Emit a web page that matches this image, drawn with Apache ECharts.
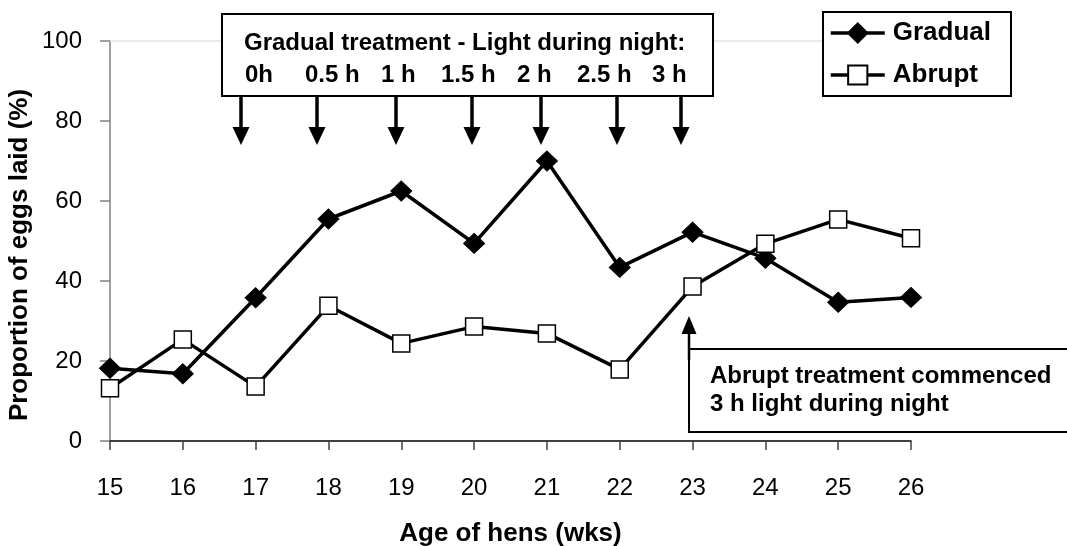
<!DOCTYPE html>
<html>
<head>
<meta charset="utf-8">
<script src="https://cdn.jsdelivr.net/npm/echarts@6/dist/echarts.min.js"></script>
<style>html,body{margin:0;padding:0;background:#fff}#c{width:1067px;height:546px}</style>
</head>
<body>
<div id="c"></div>
<script>
// ---- data ----
var weeks = ['15','16','17','18','19','20','21','22','23','24','25','26'];
var gradual = [18.2, 16.8, 35.8, 55.5, 62.5, 49.4, 70.0, 43.4, 52.2, 45.7, 34.7, 35.9];
var abrupt  = [13.2, 25.4, 13.6, 33.8, 24.4, 28.6, 26.9, 17.9, 38.6, 49.3, 55.4, 50.7];
var yTicks = [0, 20, 40, 60, 80, 100];
var lightLabels = ['0h', '0.5 h', '1 h', '1.5 h', '2 h', '2.5 h', '3 h'];
var boxTitle = 'Gradual treatment - Light during night:';
var noteLines = ['Abrupt treatment commenced', '3 h light during night'];

// ---- layout (pixels) ----
var FONT = '"Liberation Sans", Arial, sans-serif';
var lightLabelX = [245, 305, 381, 441, 517, 577, 652];
var arrowX = [241, 317, 396, 472, 541, 617, 681];

var chart = echarts.init(document.getElementById('c'), null, {renderer: 'canvas'});

var graphics = [];
// top box
graphics.push({type: 'rect', shape: {x: 222, y: 14, width: 491, height: 82},
  style: {fill: '#fff', stroke: '#000', lineWidth: 2}, z: 100});
graphics.push({type: 'text', x: 244, y: 43, z: 101,
  style: {text: boxTitle, font: 'bold 24px ' + FONT, fill: '#000', verticalAlign: 'middle'}});
lightLabels.forEach(function (t, i) {
  graphics.push({type: 'text', x: lightLabelX[i], y: 75, z: 101,
    style: {text: t, font: 'bold 24px ' + FONT, fill: '#000', verticalAlign: 'middle'}});
});
arrowX.forEach(function (x) {
  graphics.push({type: 'line', shape: {x1: x, y1: 96, x2: x, y2: 130}, z: 100,
    style: {stroke: '#000', lineWidth: 3.5}});
  graphics.push({type: 'polygon', shape: {points: [[x - 8.5, 127], [x + 8.5, 127], [x, 145]]}, z: 100,
    style: {fill: '#000'}});
});
// bottom note box
graphics.push({type: 'rect', shape: {x: 689, y: 349, width: 390, height: 83},
  style: {fill: '#fff', stroke: '#000', lineWidth: 2}, z: 100});
graphics.push({type: 'line', shape: {x1: 689, y1: 360, x2: 689, y2: 330}, z: 100,
  style: {stroke: '#000', lineWidth: 2.5}});
graphics.push({type: 'polygon', shape: {points: [[681.5, 334], [696.5, 334], [689, 316]]}, z: 100,
  style: {fill: '#000'}});
graphics.push({type: 'text', x: 710, y: 376, z: 101,
  style: {text: noteLines[0], font: 'bold 24px ' + FONT, fill: '#000', verticalAlign: 'middle'}});
graphics.push({type: 'text', x: 710, y: 404, z: 101,
  style: {text: noteLines[1], font: 'bold 24px ' + FONT, fill: '#000', verticalAlign: 'middle'}});

chart.setOption({
  animation: false,
  backgroundColor: '#fff',
  grid: {left: 110, right: 156, top: 41, bottom: 105, containLabel: false, outerBoundsMode: 'none'},
  legend: {
    orient: 'vertical', left: 823, top: 12,
    width: 191, height: 85,
    padding: [8, 20, 8, 6],
    backgroundColor: '#fff', borderColor: '#000', borderWidth: 2,
    itemWidth: 54, itemHeight: 24, itemGap: 16,
    lineStyle: {width: 3.5, color: '#000'},
    textStyle: {fontFamily: FONT, fontSize: 26, fontWeight: 'bold', color: '#000', padding: [0, 0, 0, 3]},
    data: ['Gradual', 'Abrupt'],
    z: 110
  },
  xAxis: {
    type: 'category', data: weeks, boundaryGap: false,
    name: 'Age of hens (wks)', nameLocation: 'middle', nameGap: 80,
    nameTextStyle: {fontFamily: FONT, fontSize: 26, fontWeight: 'bold', color: '#000'},
    axisLine: {lineStyle: {color: '#000', width: 1.5}},
    axisTick: {show: true, alignWithLabel: true, length: 9, inside: false, lineStyle: {color: '#404040', width: 1.5}},
    axisLabel: {fontFamily: FONT, fontSize: 24, color: '#000', margin: 35},
    splitLine: {show: false}
  },
  yAxis: {
    type: 'value', min: 0, max: 100, interval: 20,
    name: 'Proportion of eggs laid (%)', nameLocation: 'middle', nameGap: 77,
    nameMoveOverlap: false,
    nameTextStyle: {fontFamily: FONT, fontSize: 26, fontWeight: 'bold', color: '#000', padding: [0, 28, 0, 0]},
    axisLine: {show: true, lineStyle: {color: '#808080', width: 1.5}},
    axisTick: {show: true, length: 10, lineStyle: {color: '#808080', width: 1.5}},
    axisLabel: {fontFamily: FONT, fontSize: 24, color: '#000', margin: 28,
      formatter: function (v) { return yTicks.indexOf(v) >= 0 ? String(v) : ''; }},
    splitLine: {show: false}
  },
  series: [
    {
      name: 'Gradual', type: 'line', data: gradual,
      symbol: 'diamond', symbolSize: [21, 20],
      lineStyle: {color: '#000', width: 3.5},
      itemStyle: {color: '#000', borderColor: '#000', borderWidth: 1},
      markLine: {silent: true, symbol: 'none', label: {show: false},
        lineStyle: {color: '#e3e3e3', width: 1.5, type: 'solid'},
        data: [{yAxis: 100}]},
      z: 3
    },
    {
      name: 'Abrupt', type: 'line', data: abrupt,
      symbol: 'rect', symbolSize: 17,
      lineStyle: {color: '#000', width: 3.5},
      itemStyle: {color: '#fff', borderColor: '#000', borderWidth: 1.5},
      z: 4
    }
  ],
  graphic: graphics
});
</script>
</body>
</html>
